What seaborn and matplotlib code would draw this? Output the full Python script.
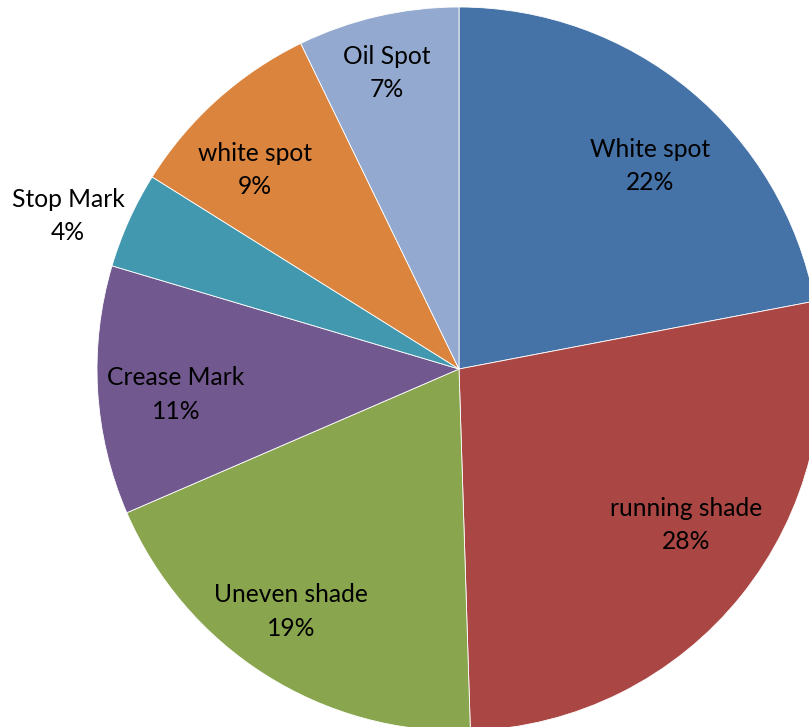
import matplotlib
matplotlib.use("Agg")
import matplotlib.pyplot as plt
import seaborn as sns
import numpy as np

sns.set_theme(style="white")
plt.rcParams['font.family'] = ['Lato', 'DejaVu Sans']

categories = ["White spot", "running shade", "Uneven shade", "Crease Mark",
              "Stop Mark", "white spot", "Oil Spot"]
values = [22.0, 27.5, 19.0, 11.1, 4.3, 8.9, 7.2]
pct_labels = ["22%", "28%", "19%", "11%", "4%", "9%", "7%"]
colors = ["#4572A7", "#AA4643", "#89A54E", "#71588F", "#4198AF", "#DB843D", "#93A9CF"]

# label placement (radial distance as fraction of radius, angular shift in degrees)
label_dist = [0.77, 0.76, 0.815, 0.785, 1.16, 0.787, 0.842]
label_shift = [-3.7, 4.2, -2.3, 1.7, 2.9, 3.8, 0.7]

W, H = 809, 727
fig = plt.figure(figsize=(W / 100, H / 100), dpi=100)
cx, cy, r = 459, 369, 362
ax = fig.add_axes([(cx - r) / W, (H - cy - r) / H, 2 * r / W, 2 * r / H])

wedges, texts, autotexts = ax.pie(
    values, colors=colors, startangle=90, counterclock=False,
    labels=None, autopct="%1.0f%%", pctdistance=0.78,
    wedgeprops=dict(edgecolor="white", linewidth=0.6),
    textprops=dict(fontsize=17.7, color="black", linespacing=1.55),
)
total = sum(values)
cum = 0
for t, name, p, v, d, s in zip(autotexts, categories, pct_labels, values,
                               label_dist, label_shift):
    t.set_text(f"{name}\n{p}")
    t.set_ha("center")
    t.set_va("center")
    mid = 90 - (cum + v / 2) / total * 360 + s
    t.set_position((d * np.cos(np.radians(mid)), d * np.sin(np.radians(mid))))
    cum += v

ax.set_xlim(-1, 1)
ax.set_ylim(-1, 1)
ax.set_aspect("equal")
ax.axis("off")
fig.savefig("out.png", dpi=100)
